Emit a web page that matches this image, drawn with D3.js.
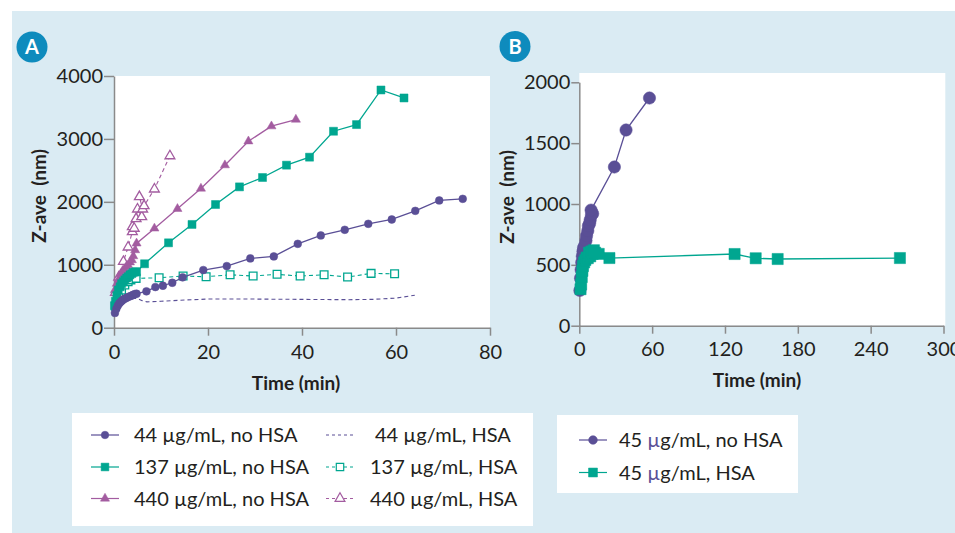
<!DOCTYPE html>
<html><head><meta charset="utf-8">
<script src="https://cdn.jsdelivr.net/npm/d3@7"></script>
<style>
html,body{margin:0;padding:0;background:#fff;}
svg{display:block;font-family:Lato,"Open Sans",sans-serif;}
</style></head>
<body>
<svg id="chart" width="955" height="533"></svg>
<script>
// ---------- DATA ----------
// Panel A
const a44noT = [0.2,0.5,0.8,1.1,1.4,1.7,2.0,2.4,2.8,3.2,3.6,4.0,4.4,4.8,6.9,8.8,10.4,12.4,14.6,19.0,24.0,29.0,34.0,39.1,44.0,49.1,54.1,59.1,64.1,69.2,74.2];
const a44noZ = [235,300,350,385,410,430,450,465,480,495,505,520,535,540,578,646,667,714,800,916,979,1101,1133,1333,1466,1556,1651,1720,1857,2022,2048];
const a137noT = [0.1,0.3,0.6,0.9,1.3,1.6,2.0,2.3,2.7,3.0,3.4,3.8,4.1,4.5,4.8,6.5,11.6,16.6,21.6,26.7,31.6,36.7,41.6,46.7,51.6,56.8,61.7];
const a137noZ = [350,420,510,600,650,700,730,760,790,810,840,860,880,885,890,1016,1349,1641,1958,2238,2387,2583,2710,3122,3228,3778,3651];
const a440noT = [0.2,0.6,1.0,1.4,1.8,2.2,2.6,3.0,3.4,3.8,4.1,4.5,4.8,8.6,13.5,18.5,23.6,28.6,33.5,38.7];
const a440noZ = [600,700,770,850,900,930,970,995,1040,1075,1138,1233,1340,1578,1889,2212,2583,2963,3202,3308];
const a44hsaT = [0,0.5,1,2,3,4,5,6,7,10,15,20,30,40,50,55,60,64];
const a44hsaZ = [330,380,410,440,460,470,465,430,410,420,440,455,455,450,445,450,470,515];
const a137hsaT = [0.3,1,1.6,2.3,3,3.6,4.7,9.6,14.7,19.6,24.7,29.6,34.7,39.6,44.7,49.7,54.7,59.7];
const a137hsaZ = [340,480,600,680,730,760,784,794,821,810,841,821,848,821,841,805,863,857];
const a440hsaT = [0.3,1,2,3,3.9,3.9,4.3,4.7,5.0,5.9,6.1,5.4,6.4,8.6,11.9];
const a440hsaZ = [560,800,1050,1280,1524,1603,1578,1730,1884,1762,1884,2080,1937,2202,2730];
// Panel B
const b45noT = [0.5,1,1.5,2,2.5,3,3.5,4.5,5.5,6,7,7.5,8.5,9,10,11,9.7,28.9,38.5,57.8];
const b45noZ = [290,390,460,520,570,610,640,660,700,740,780,820,840,870,910,920,950,1304,1608,1871];
const b45hsaT = [1,1.5,2,2.5,3,4,5,6,7,8,9,10,11,12,13,16,24.8,127.9,145.3,163.4,264.1];
const b45hsaZ = [300,340,400,450,490,520,540,560,555,600,570,610,590,620,600,590,556,589,554,548,556];
// Ticks
const ticksAx = [0,20,40,60,80];
const ticksAy = [0,1000,2000,3000,4000];
const ticksBx = [0,60,120,180,240,300];
const ticksBy = [0,500,1000,1500,2000];
// Legend labels
const legendA = ["44 µg/mL, no HSA","137 µg/mL, no HSA","440 µg/mL, no HSA","44 µg/mL, HSA","137 µg/mL, HSA","440 µg/mL, HSA"];
const legendB = ["45 µg/mL, no HSA","45 µg/mL, HSA"];

// ---------- STYLE ----------
const PURPLE = "#5a4f96", TEAL = "#00a690", MAUVE = "#a35ca0";
const BG = "#daebf3", AXIS = "#8a8a8a", TXT = "#231f20", BADGE = "#0e8bbd";

const svg = d3.select("#chart");
svg.append("rect").attr("x",12).attr("y",11).attr("width",943).attr("height",522).attr("fill",BG);

function zip(t,z){ return t.map((d,i)=>({t:d,z:z[i]})); }

function drawAxes(g, x, y, xt, yt, ytSize, xtSize, xPad){
  const ya = g.append("g").attr("transform",`translate(${x.range()[0]},0)`)
    .call(d3.axisLeft(y).tickValues(yt).tickSize(ytSize).tickSizeOuter(0).tickPadding(1).tickFormat(d3.format("d")));
  const xa = g.append("g").attr("transform",`translate(0,${y.range()[0]})`)
    .call(d3.axisBottom(x).tickValues(xt).tickSize(xtSize).tickSizeOuter(0).tickPadding(xPad).tickFormat(d3.format("d")));
  [ya,xa].forEach(a=>{
    a.select(".domain").attr("stroke",AXIS).attr("stroke-width",1.5);
    a.selectAll(".tick line").attr("stroke",AXIS).attr("stroke-width",1.5);
    a.selectAll(".tick text").attr("fill",TXT).style("font-size","20px").style("font-family","Lato");
  });
}

function drawSeries(g, data, x, y, opt){
  const line = d3.line().x(d=>x(d.t)).y(d=>y(d.z));
  g.append("path").datum(data).attr("d",line).attr("fill","none")
    .attr("stroke",opt.color).attr("stroke-width",opt.lw||1.3)
    .attr("stroke-dasharray",opt.dash||null);
  if(!opt.symbol) return;
  const sym = d3.symbol().type(opt.symbol).size(opt.size);
  g.selectAll(null).data(data).enter().append("path")
    .attr("d",sym).attr("transform",d=>`translate(${x(d.t)},${y(d.z)})`)
    .attr("fill",opt.open?"#fff":opt.color)
    .attr("stroke",opt.color).attr("stroke-width",opt.open?1.3:0.5);
}

// ---------- PANEL A ----------
const gA = svg.append("g");
const xA = d3.scaleLinear().domain([0,80]).range([114,490]);
const yA = d3.scaleLinear().domain([0,4000]).range([327.7,76]);
gA.append("rect").attr("x",114).attr("y",76).attr("width",376).attr("height",252).attr("fill","#fff");
drawAxes(gA,xA,yA,ticksAx,ticksAy,10,8,9);
drawSeries(gA, zip(a44hsaT,a44hsaZ), xA, yA, {color:PURPLE, dash:"4,3", lw:1.1});
drawSeries(gA, zip(a137hsaT,a137hsaZ), xA, yA, {color:TEAL, dash:"4,3", lw:1.1, symbol:d3.symbolSquare, size:60, open:true});
drawSeries(gA, zip(a440hsaT,a440hsaZ), xA, yA, {color:MAUVE, dash:"4,3", lw:1.1, symbol:d3.symbolTriangle, size:42, open:true});
drawSeries(gA, zip(a440noT,a440noZ), xA, yA, {color:MAUVE, symbol:d3.symbolTriangle, size:36});
drawSeries(gA, zip(a137noT,a137noZ), xA, yA, {color:TEAL, symbol:d3.symbolSquare, size:64});
drawSeries(gA, zip(a44noT,a44noZ), xA, yA, {color:PURPLE, symbol:d3.symbolCircle, size:48});
gA.append("text").attr("x",296).attr("y",390).attr("text-anchor","middle")
  .attr("fill",TXT).style("font-size","19px").style("font-weight","bold").text("Time (min)");
gA.append("text").attr("transform","translate(46,196) rotate(-90)").attr("text-anchor","middle")
  .attr("fill",TXT).style("font-size","19px").style("font-weight","bold").attr("xml:space","preserve").text("Z-ave  (nm)");

// ---------- PANEL B ----------
const gB = svg.append("g");
const xB = d3.scaleLinear().domain([0,300]).range([579.3,943.5]);
const yB = d3.scaleLinear().domain([0,2000]).range([325.7,82.3]);
gB.append("rect").attr("x",579.3).attr("y",73).attr("width",366).attr("height",252.7).attr("fill","#fff");
drawAxes(gB,xB,yB,ticksBx,ticksBy,8,8,8);
drawSeries(gB, zip(b45noT,b45noZ), xB, yB, {color:PURPLE, symbol:d3.symbolCircle, size:120});
drawSeries(gB, zip(b45hsaT,b45hsaZ), xB, yB, {color:TEAL, symbol:d3.symbolSquare, size:125});
gB.append("text").attr("x",757).attr("y",387).attr("text-anchor","middle")
  .attr("fill",TXT).style("font-size","19px").style("font-weight","bold").text("Time (min)");
gB.append("text").attr("transform","translate(514,197) rotate(-90)").attr("text-anchor","middle")
  .attr("fill",TXT).style("font-size","19px").style("font-weight","bold").attr("xml:space","preserve").text("Z-ave  (nm)");

// ---------- BADGES ----------
[["A",32,47],["B",515,46.5]].forEach(([l,cx,cy])=>{
  svg.append("circle").attr("cx",cx).attr("cy",cy).attr("r",15.5).attr("fill",BADGE);
  svg.append("text").attr("x",cx).attr("y",cy+7).attr("text-anchor","middle")
    .attr("fill","#fff").style("font-size","20px").style("font-weight","bold").text(l);
});

// ---------- LEGENDS ----------
function legendItem(g, x0, y0, label, opt, muColor){
  g.append("line").attr("x1",x0).attr("x2",x0+28).attr("y1",y0).attr("y2",y0)
    .attr("stroke",opt.color).attr("stroke-width",1.2).attr("stroke-dasharray",opt.dash||null);
  if(opt.symbol){
    g.append("path").attr("d",d3.symbol().type(opt.symbol).size(opt.size)())
      .attr("transform",`translate(${x0+14},${y0})`)
      .attr("fill",opt.open?"#fff":opt.color).attr("stroke",opt.color).attr("stroke-width",opt.open?1.2:0.5);
  }
  const t = g.append("text").attr("x",opt.tx).attr("y",y0+7).attr("fill",TXT).style("font-size","20px");
  const parts = label.split("µ");
  t.append("tspan").text(parts[0]);
  t.append("tspan").attr("fill",muColor||TXT).text("µ");
  t.append("tspan").text(parts[1]);
}
const gL = svg.append("g");
gL.append("rect").attr("x",72).attr("y",413).attr("width",461).attr("height",113).attr("fill","#fff");
const styleA = [
  {color:PURPLE, symbol:d3.symbolCircle, size:45},
  {color:TEAL, symbol:d3.symbolSquare, size:60},
  {color:MAUVE, symbol:d3.symbolTriangle, size:36},
  {color:PURPLE, dash:"3,3"},
  {color:TEAL, dash:"3,3", symbol:d3.symbolSquare, size:55, open:true},
  {color:MAUVE, dash:"3,3", symbol:d3.symbolTriangle, size:42, open:true}
];
const rowY = [435,467,498.5];
legendA.forEach((lab,i)=>{
  const col = Math.floor(i/3), row = i%3;
  const x0 = col===0?91:326;
  const tx = col===0?134:(i===3?375:370);
  legendItem(gL, x0, rowY[row], lab, Object.assign({tx:tx}, styleA[i]));
});
gL.append("rect").attr("x",557).attr("y",415).attr("width",241).attr("height",78).attr("fill","#fff");
const styleB = [
  {color:PURPLE, symbol:d3.symbolCircle, size:60},
  {color:TEAL, symbol:d3.symbolSquare, size:80}
];
legendB.forEach((lab,i)=>{
  legendItem(gL, 579, [440,472.5][i], lab, Object.assign({tx:619}, styleB[i]), PURPLE);
});
</script>
</body></html>
